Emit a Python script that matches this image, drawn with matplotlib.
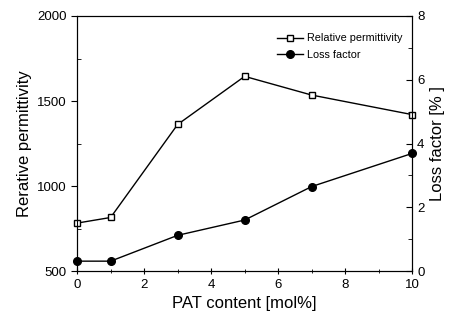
import matplotlib
matplotlib.use("Agg")
import matplotlib.pyplot as plt
from matplotlib.ticker import MultipleLocator

plt.rcParams['font.family'] = ['Liberation Sans', 'DejaVu Sans']

# data
pat = [0, 1, 3, 5, 7, 10]
permittivity = [782, 815, 1362, 1645, 1535, 1420]
loss_factor = [0.31, 0.31, 1.12, 1.6, 2.65, 3.69]

fig = plt.figure(figsize=(4.59, 3.2), dpi=100)
ax = fig.add_axes([0.168, 0.153, 0.73, 0.797])
ax2 = ax.twinx()

l1, = ax.plot(pat, permittivity, color='black', lw=1.0, marker='s', ms=5,
              mfc='white', mec='black', mew=1.0, label='Relative permittivity',
              clip_on=False, zorder=3)
l2, = ax2.plot(pat, loss_factor, color='black', lw=1.0, marker='o', ms=5.5,
               mfc='black', mec='black', label='Loss factor',
               clip_on=False, zorder=3)

ax.set_xlim(0, 10)
ax.set_ylim(500, 2000)
ax2.set_ylim(0, 8)

ax.xaxis.set_major_locator(MultipleLocator(2))
ax.xaxis.set_minor_locator(MultipleLocator(1))
ax.yaxis.set_major_locator(MultipleLocator(500))
ax.yaxis.set_minor_locator(MultipleLocator(250))
ax2.yaxis.set_major_locator(MultipleLocator(2))
ax2.yaxis.set_minor_locator(MultipleLocator(1))

ax.tick_params(axis='y', which='major', direction='out', length=4, labelsize=9.5)
ax.tick_params(axis='y', which='minor', direction='in', length=3)
ax.tick_params(axis='x', which='both', direction='inout', length=4, labelsize=9.5)
ax.tick_params(axis='x', which='minor', length=3)
ax2.tick_params(axis='y', which='both', direction='in', length=4, labelsize=9.5)
ax2.tick_params(axis='y', which='minor', length=3)

ax.set_xlabel('PAT content [mol%]', fontsize=12)
ax.set_ylabel('Rerative permittivity', fontsize=12)
ax2.set_ylabel('Loss factor [% ]', fontsize=12)

ax.legend(handles=[l1, l2], loc='upper right', bbox_to_anchor=(1.0, 0.97),
          frameon=False, fontsize=7.8, handlelength=2.4, handletextpad=0.4,
          labelspacing=0.6)

fig.savefig('out.png', dpi=100)
